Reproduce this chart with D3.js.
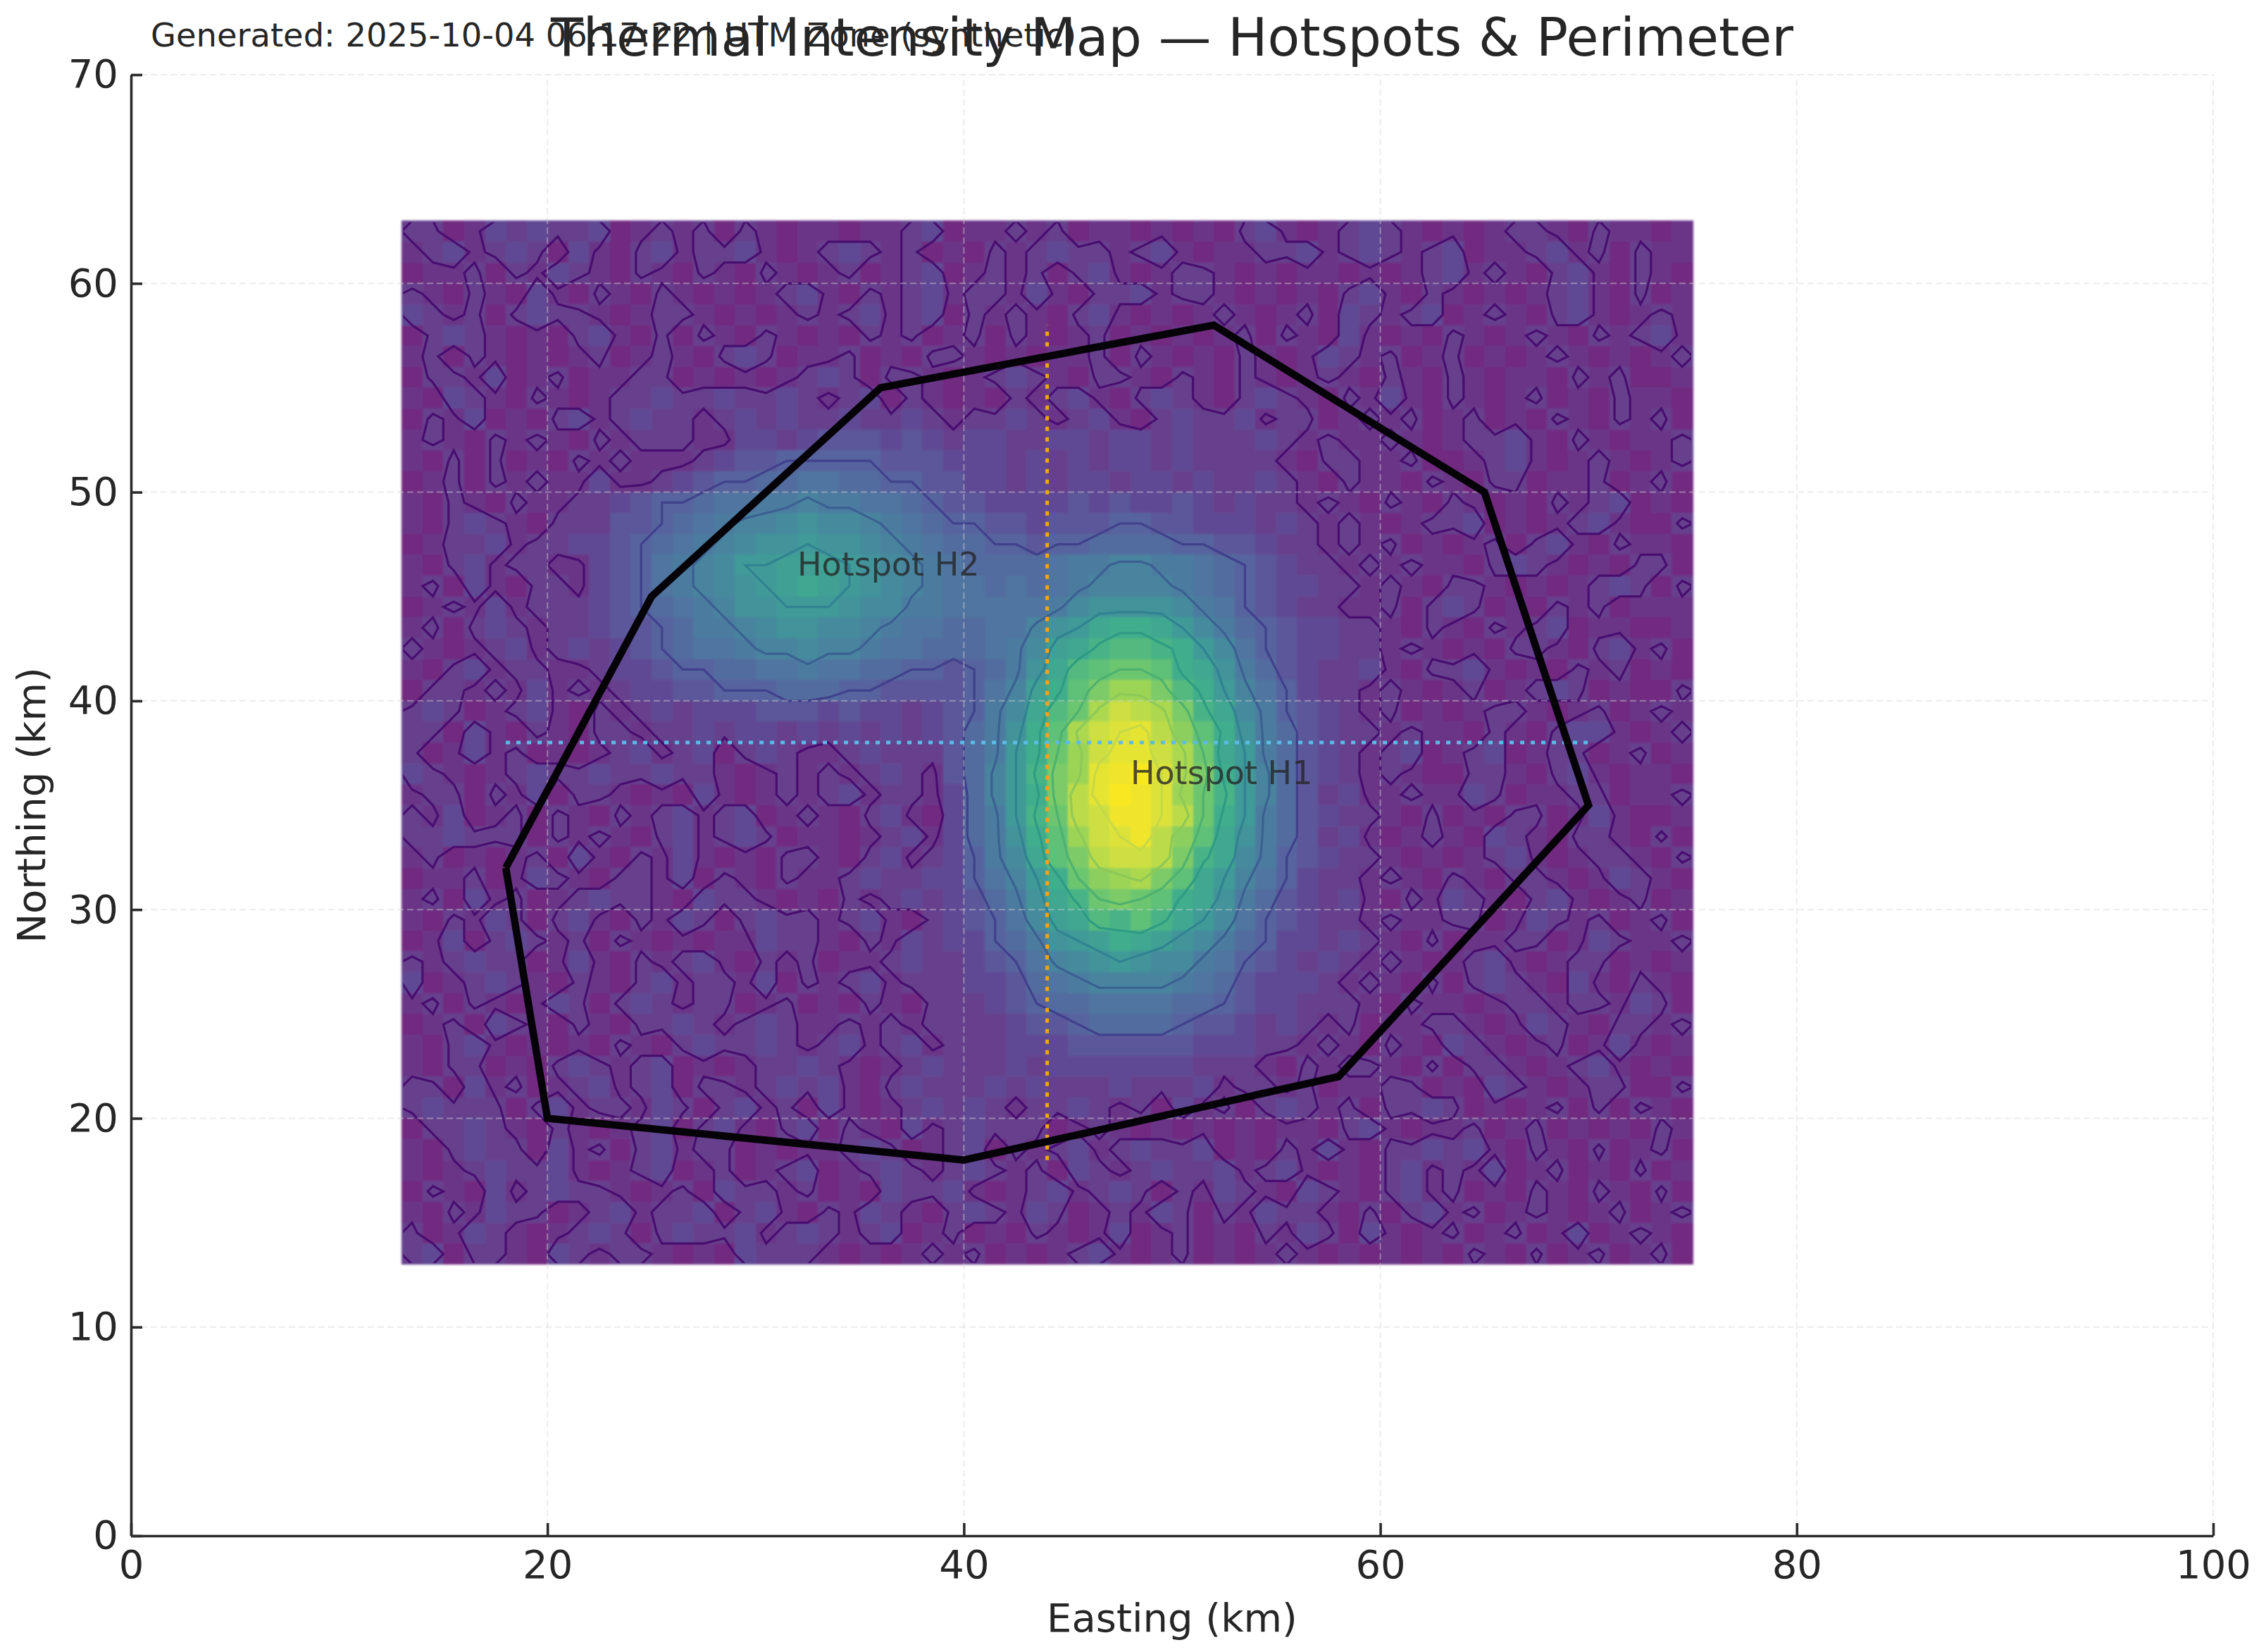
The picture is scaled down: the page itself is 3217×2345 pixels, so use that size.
<!DOCTYPE html>
<html>
<head>
<meta charset="utf-8">
<script src="https://cdn.jsdelivr.net/npm/d3@7"></script>
<style>
  html, body { margin: 0; background: #fff; }
  text { font-family: "DejaVu Sans", sans-serif; fill: #262626; }
  .tick text { font-size: 56px; }
</style>
</head>
<body>
<svg id="chart" width="3217" height="2345"></svg>
<script>
const titleText = 'Thermal Intensity Map — Hotspots & Perimeter';
const stampText = 'Generated: 2025-10-04 06:17:22 | UTM Zone (synthetic)';
const xLabel = 'Easting (km)';
const yLabel = 'Northing (km)';
const xTicks = [0, 20, 40, 60, 80, 100];
const yTicks = [0, 10, 20, 30, 40, 50, 60, 70];

// perimeter vertices, km
const perimeterEast = [18, 25, 36, 52, 65, 70, 58, 40, 20, 18];
const perimeterNorth = [32, 45, 55, 58, 50, 35, 22, 18, 20, 32];

// survey lines, km
const scanEastX = [18, 70];
const scanEastY = [38, 38];
const scanNorthX = [44, 44];
const scanNorthY = [18, 58];

const hotspotNames = ['Hotspot H1', 'Hotspot H2'];
const hotspotEast = [48, 32];
const hotspotNorth = [36, 46];

// extent of the raster, km
const rasterEast = [13, 75];
const rasterNorth = [13, 63];

const intensityRows = [
  '4423545445 2343424323 3233452334 3423323232 4532345432 3234432433 23',
  '3453454253 2453445323 4543423243 4544345323 3445345434 5233453424 33',
  '2334243543 2432432432 3423452343 4245323443 2323323234 5343245324 32',
  '4324325324 3243232345 3243453443 5324453443 2323245324 3232345324 23',
  '5434245443 2344323234 3453452434 3245323234 3234254345 2343245323 43',
  '2454323245 3242432432 3243423424 3234232323 4243253232 4323432434 53',
  '3424323234 2343245423 3423244323 2334243232 4323543423 4232343232 34',
  '2443523423 3442323234 5424432345 4324432432 4323432432 4323324342 23',
  '3254324323 4454454454 3452432324 3453245432 4543243532 4323423243 32',
  '2435232453 4544345454 4544543445 4345324544 5344234342 3423243243 42',
  '3432434324 3444335545 6665654554 4554554544 4543433432 3445324323 34',
  '3242423243 4333456677 7776665554 5454554544 4432443342 2345323432 34',
  '2342434335 3345677889 9887766554 5455455454 4543243324 3244233423 42',
  '3243243344 5677899aab aa99876655 5565655654 5443432432 4323243452 32',
  '3245432444 66789abbcd ccba987766 5666776655 5454343234 4523234532 24',
  '2344534455 6789abcdde ddcba98877 6778888776 6544343423 2342453243 32',
  '3245344335 679abceeff fedcba9888 89aabbaa98 7654434343 3245432324 42',
  '3425324435 679abcdefg fedcba9989 89abbbba98 7655443432 4432323454 24',
  '2343534445 6789abddee edccaa9999 9acddddca9 7654433424 5423243423 33',
  '3424543445 6678aabcdd ccba998899 bdeghhgeca 8765544324 3243452332 23',
  '4323453454 567899abbc bba998889a cfgijjihec 9765544343 2324432453 42',
  '3245344334 556778899a 998877678a dgjkllkhgd a865445324 4532324342 32',
  '2443435343 4556677788 877666679b fhkmoomjhe b975443432 3423454232 24',
  '4542345324 3454555666 5655456 7ac gjlprqpmig ca76543423 2344323423 43',
  '4425324324 4344545545 4545456 8ad hkprstqnkh da86544343 3243245532 34',
  '4235342323 4534524543 3454446 8ae hlorttrplg ea86543452 3452344234 23',
  '5432345445 4454432343 4345436 8be imotuvspmh eb86543432 2443245323 32',
  '3442435244 3232532343 4534435 8be hmqtvusoli eb86453343 3542334423 34',
  '4352342432 4345345234 3245325 8ae ilqruusqlh ea86544324 2324423532 23',
  '4454442434 3245345423 3234535 8ad hkorsuqnkg da86453234 3254324432 42',
  '3423234253 2435323244 3245345 7ac gkmqrrqmig ca76544323 2345323443 24',
  '2334235432 4435243243 3454455 79b ehlnopmkge b975443432 4324432354 32',
  '3425342345 4432544323 2434545 68a dgilmlkhgd a865453243 5432453234 23',
  '3243542453 2435424544 3453245 679 cfgjikigec 9765443433 4423543423 42',
  '2352454342 4323233544 3243545 578 adefhgfdca 8755454324 2334423543 34',
  '4345442353 2434532434 2334544 567 9bcdedcca9 7654543432 3453234423 23',
  '5234543243 2453443524 3453444 556 89abbbba98 6555434324 2454325324 32',
  '3424323542 4543442342 3243244456 7889999887 6554443243 3234434435 42',
  '2342543243 2445434543 3434344445 6678888766 5454342334 4323543244 34',
  '3245323232 4324544543 4534534445 5566666655 5443432432 5432342353 23',
  '3244232454 3452323445 4323454445 4555555544 4324344324 2443234532 32',
  '4425342345 3452443454 5324544454 5444544453 4434233442 3254323442 24',
  '4544424534 4354245342 5323454543 4454342534 2454342445 4232342424 32',
  '2445432432 3452453245 2432534544 4234323232 3233245323 3423423232 43',
  '3245442534 2453442323 3454234524 3453454452 3243532445 4532432423 42',
  '3234544532 3452342345 2345434543 4254345445 3453232453 4352342324 23',
  '2432534544 3234254434 2325445323 4534542435 4325432453 4232432432 42',
  '3243544234 5344524532 4354324543 5423435424 3544324245 3423432342 34',
  '4235432345 4245445345 4345234232 4323523423 2435425323 4234235234 32',
  '4524432543 4432325444 3232343423 2345323423 2343232323 2432423423 42',
];

// colour ramp sampled from the raster
const rampValues = [2, 5, 7, 10.5, 14, 17.5, 21, 24.5, 28, 31];
const rampColors = ['#712a80', '#604a94', '#56649f', '#4a80a0', '#3f9a98', '#40b08a', '#6cc670', '#a4d652', '#dde23b', '#f9e724'];

const contourLevels = [3.5, 7, 10.5, 14, 17.5, 21, 24.5, 28];
const contourColors = ['#470c6e', '#3f3f8a', '#3a5f90', '#2f8290', '#2d9a84', '#4cb070', '#8cc858', '#c4d848'];

const svg = d3.select('#chart');

const x = d3.scaleLinear().domain([0, 100]).range([186, 3142]);
const y = d3.scaleLinear().domain([0, 70]).range([2180, 106]);

const rowTexts = intensityRows.map((row) => row.replace(/\s/g, ''));
const ny = rowTexts.length;
const nx = rasterEast[1] - rasterEast[0];
const grid = [];
rowTexts.forEach((row) => {
  for (let i = 0; i < nx; i += 1) {
    grid.push(parseInt(row[i] || '3', 36));
  }
});

const color = d3.scaleLinear().domain(rampValues).range(rampColors).clamp(true);

// soft edge on the raster, the source image is slightly blurred
svg.append('filter').attr('id', 'soft')
  .append('feGaussianBlur')
  .attr('stdDeviation', 1.6);

// raster cells
const cells = svg.append('g')
  .attr('shape-rendering', 'crispEdges')
  .attr('filter', 'url(#soft)');
grid.forEach((v, k) => {
  const i = k % nx;
  const j = Math.floor(k / nx);
  cells.append('rect')
    .attr('x', x(rasterEast[0] + i))
    .attr('y', y(rasterNorth[1] - j))
    .attr('width', x(rasterEast[0] + i + 1) - x(rasterEast[0] + i) + 0.5)
    .attr('height', y(rasterNorth[1] - j - 1) - y(rasterNorth[1] - j) + 0.5)
    .attr('fill', color(v));
});

// contour lines, clipped a little inside so the closing edges of d3.contours don't show
svg.append('clipPath').attr('id', 'raster-clip')
  .append('rect')
  .attr('x', x(rasterEast[0]) + 2)
  .attr('y', y(rasterNorth[1]) + 2)
  .attr('width', x(rasterEast[1]) - x(rasterEast[0]) - 4)
  .attr('height', y(rasterNorth[0]) - y(rasterNorth[1]) - 4);

const toMap = d3.geoTransform({
  point(px, py) {
    this.stream.point(x(rasterEast[0] + px), y(rasterNorth[1] - py));
  },
});
const contourPath = d3.geoPath(toMap);
const contours = d3.contours().size([nx, ny]).thresholds(contourLevels)(grid);

svg.append('g').attr('clip-path', 'url(#raster-clip)')
  .selectAll('path')
  .data(contours)
  .enter()
  .append('path')
  .attr('d', contourPath)
  .attr('fill', 'none')
  .attr('stroke', (d, i) => contourColors[i])
  .attr('stroke-width', 3.2)
  .attr('stroke-opacity', 0.95);

// grid
const gridLines = svg.append('g')
  .attr('stroke', '#d4d4d4')
  .attr('stroke-opacity', 0.45)
  .attr('stroke-width', 2)
  .attr('stroke-dasharray', '9 5');
gridLines.selectAll('.gx').data(xTicks).enter().append('line')
  .attr('x1', (d) => x(d)).attr('x2', (d) => x(d))
  .attr('y1', y(0)).attr('y2', y(70));
gridLines.selectAll('.gy').data(yTicks).enter().append('line')
  .attr('x1', x(0)).attr('x2', x(100))
  .attr('y1', (d) => y(d)).attr('y2', (d) => y(d));

// survey lines and perimeter
const line = d3.line().x((d) => x(d[0])).y((d) => y(d[1]));

svg.append('path')
  .attr('d', line(d3.zip(scanEastX, scanEastY)))
  .attr('fill', 'none')
  .attr('stroke', '#5cbbe6')
  .attr('stroke-width', 5)
  .attr('stroke-dasharray', '6 9');

svg.append('path')
  .attr('d', line(d3.zip(scanNorthX, scanNorthY)))
  .attr('fill', 'none')
  .attr('stroke', '#f2a31c')
  .attr('stroke-width', 5)
  .attr('stroke-dasharray', '6 9');

svg.append('path')
  .attr('d', line(d3.zip(perimeterEast, perimeterNorth)))
  .attr('fill', 'none')
  .attr('stroke', '#050308')
  .attr('stroke-width', 10.5)
  .attr('stroke-linejoin', 'miter');

// hotspot labels
svg.selectAll('.hotspot')
  .data(hotspotNames)
  .enter()
  .append('text')
  .attr('x', (d, i) => x(hotspotEast[i]))
  .attr('y', (d, i) => y(hotspotNorth[i]))
  .attr('font-size', 46)
  .attr('opacity', 0.8)
  .text((d) => d);

// axes
const axisBottom = d3.axisBottom(x).tickValues(xTicks).tickSizeInner(-18).tickSizeOuter(0).tickPadding(20);
const axisLeft = d3.axisLeft(y).tickValues(yTicks).tickSizeInner(-16).tickSizeOuter(0).tickPadding(18);

[svg.append('g').attr('transform', `translate(0,${y(0)})`).call(axisBottom),
  svg.append('g').attr('transform', `translate(${x(0)},0)`).call(axisLeft)]
  .forEach((g) => {
    g.selectAll('.domain, .tick line').attr('stroke', '#2b2b2b').attr('stroke-width', 3.6);
  });

// titles
svg.append('text')
  .attr('x', (x(0) + x(100)) / 2)
  .attr('y', 79)
  .attr('text-anchor', 'middle')
  .attr('font-size', 74.8)
  .text(titleText);

svg.append('text')
  .attr('x', 214)
  .attr('y', 66)
  .attr('font-size', 46.4)
  .text(stampText);

svg.append('text')
  .attr('x', (x(0) + x(100)) / 2)
  .attr('y', 2316)
  .attr('text-anchor', 'middle')
  .attr('font-size', 56)
  .text(xLabel);

svg.append('text')
  .attr('transform', `translate(64,${(y(0) + y(70)) / 2}) rotate(-90)`)
  .attr('text-anchor', 'middle')
  .attr('font-size', 56)
  .text(yLabel);
</script>
</body>
</html>
